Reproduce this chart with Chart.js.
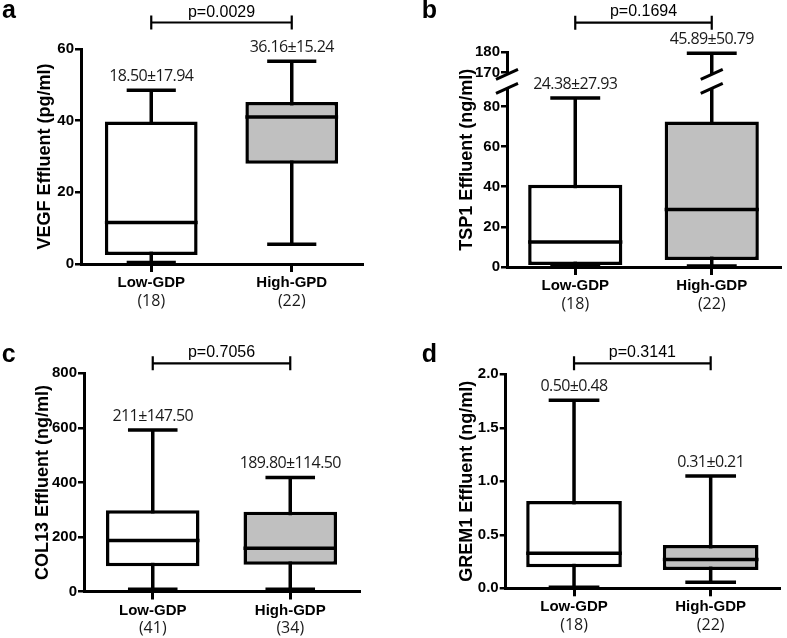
<!DOCTYPE html>
<html>
<head>
<meta charset="utf-8">
<script src="https://cdn.jsdelivr.net/npm/chart.js@4.4.1/dist/chart.umd.min.js"></script>
<style>
html,body{margin:0;padding:0;background:#fff;}
#wrap{position:relative;width:787px;height:638px;overflow:hidden;background:#fff;}
#wrap canvas{position:absolute;}
</style>
</head>
<body>
<div id="wrap">
<canvas id="cv-a"></canvas>
<canvas id="cv-b"></canvas>
<canvas id="cv-c"></canvas>
<canvas id="cv-d"></canvas>
</div>
<script>
// ---------------- DATA ----------------
const categories = ['Low-GDP', 'High-GDP'];
const categoriesA = ['Low-GDP', 'High-GPD'];

// a: VEGF (pg/ml)
const vegfMin = [0.4, 5.5];
const vegfQ1 = [2.5, 28];
const vegfMedian = [11.6, 41];
const vegfQ3 = [39.8, 45.2];
const vegfMax = [48.5, 56.6];
const vegfStats = ['18.50±17.94', '36.16±15.24'];
const vegfN = ['(18)', '(22)'];
const vegfP = 'p=0.0029';
const vegfTicks = [0, 20, 40, 60];

// b: TSP1 (ng/ml), broken axis
const tspMin = [0.5, 0.5];
const tspQ1 = [1, 3.5];
const tspMedian = [12.5, 28.7];
const tspQ3 = [41, 72.5];
const tspMax = [84.2, 179.5];
const tspStats = ['24.38±27.93', '45.89±50.79'];
const tspN = ['(18)', '(22)'];
const tspP = 'p=0.1694';
const tspTicks = [0, 20, 40, 60, 80, 170, 180];

// c: COL13 (ng/ml)
const colMin = [8, 8];
const colQ1 = [93, 98];
const colMedian = [187, 159];
const colQ3 = [298, 292];
const colMax = [592, 418];
const colStats = ['211±147.50', '189.80±114.50'];
const colN = ['(41)', '(34)'];
const colP = 'p=0.7056';
const colTicks = [0, 200, 400, 600, 800];

// d: GREM1 (ng/ml)
const gremMin = [0.01, 0.056];
const gremQ1 = [0.196, 0.17];
const gremMedian = [0.327, 0.27];
const gremQ3 = [0.815, 0.405];
const gremMax = [1.757, 1.05];
const gremStats = ['0.50±0.48', '0.31±0.21'];
const gremN = ['(18)', '(22)'];
const gremP = 'p=0.3141';
const gremTicks = [0, 0.5, 1.0, 1.5, 2.0];

const boxFills = ['#ffffff', '#c0c0c0'];

// ---------------- LAYOUT (page coordinates) ----------------
const LAYOUT = {
  a: {canvas:[0,0,393,319], area:[81,362,49,264], titleX:45, bracketY:22.5, pBase:17, letter:[2,18.3], barPct:0.66},
  b: {canvas:[393,0,394,319], area:[507,780,52.3,267], titleX:466.7, bracketY:22.7, pBase:16, letter:[421.7,18.3], barPct:0.69},
  c: {canvas:[0,319,393,319], area:[84,359,373.3,591.5], titleX:43.3, bracketY:363.3, pBase:357, letter:[1.7,361.7], barPct:0.68},
  d: {canvas:[393,319,394,319], area:[505.7,779,374.3,588.3], titleX:466.7, bracketY:363.3, pBase:357, letter:[421.7,361.7], barPct:0.70}
};

function hasFont(name){
  const c = document.createElement('canvas').getContext('2d');
  const s = 'abcdefghijklmnop0123456789';
  c.font = '40px monospace'; const w1 = c.measureText(s).width;
  c.font = '40px "' + name + '", monospace'; const w2 = c.measureText(s).width;
  return Math.abs(w1 - w2) > 0.5;
}
const NARROW_OK = hasFont('Liberation Sans Narrow');
const TICK_FONT = NARROW_OK
  ? {family: '"Liberation Sans Narrow", "Liberation Sans", Arial, sans-serif', size: 17, weight: 'bold'}
  : {family: '"Liberation Sans", Arial, sans-serif', size: 15, weight: 'bold'};
const TITLE_SIZE = 18;
const LINE_W = 3.5;

Chart.defaults.color = '#000';
Chart.defaults.animation = false;

function buildPanel(key, d) {
  const L = LAYOUT[key];
  const cv = document.getElementById('cv-' + key);
  const [ox, oy, W, H] = L.canvas;
  cv.width = W; cv.height = H;
  cv.style.left = ox + 'px'; cv.style.top = oy + 'px';
  cv.style.width = W + 'px'; cv.style.height = H + 'px';
  const aL = L.area[0] - ox, aR = L.area[1] - ox, aT = L.area[2] - oy, aB = L.area[3] - oy;
  const titleLeft = (L.titleX - ox) - (4 + TITLE_SIZE * 1.2 / 2);
  const yW = aL - titleLeft;
  const xH = 40;
  const disp = d.toDisplay || (v => v);

  const plugin = {
    id: 'box_' + key,
    beforeDatasetsDraw(chart) {
      const ctx = chart.ctx, ys = chart.scales.y;
      const meta = chart.getDatasetMeta(0);
      ctx.save();
      ctx.strokeStyle = '#000'; ctx.lineWidth = LINE_W;
      d.cats.forEach((c, i) => {
        const bar = meta.data[i];
        const x = bar.x, cw = bar.width * 0.53;
        const y1 = ys.getPixelForValue(disp(d.min[i]));
        const y2 = ys.getPixelForValue(disp(d.max[i]));
        ctx.beginPath();
        ctx.moveTo(x, y1); ctx.lineTo(x, y2);
        ctx.moveTo(x - cw / 2, y1); ctx.lineTo(x + cw / 2, y1);
        ctx.moveTo(x - cw / 2, y2); ctx.lineTo(x + cw / 2, y2);
        ctx.stroke();
      });
      ctx.restore();
    },
    afterDatasetsDraw(chart) {
      const ctx = chart.ctx, ys = chart.scales.y, xs = chart.scales.x;
      const meta = chart.getDatasetMeta(0);
      ctx.save();
      ctx.strokeStyle = '#000'; ctx.fillStyle = '#000';
      // medians
      ctx.lineWidth = LINE_W;
      d.cats.forEach((c, i) => {
        const bar = meta.data[i];
        const y = ys.getPixelForValue(disp(d.med[i]));
        ctx.beginPath();
        ctx.moveTo(bar.x - bar.width / 2, y); ctx.lineTo(bar.x + bar.width / 2, y);
        ctx.stroke();
      });
      // breaks
      if (d.breakAt) {
        const yb1 = ys.getPixelForValue(d.breakAt[0]);
        const yb2 = ys.getPixelForValue(d.breakAt[1]);
        const xsList = [chart.chartArea.left];
        d.cats.forEach((c, i) => { if (disp(d.max[i]) > d.breakAt[1]) xsList.push(meta.data[i].x); });
        xsList.forEach(x => {
          ctx.fillStyle = '#fff';
          ctx.fillRect(x - 4, yb2, 8, yb1 - yb2);
          ctx.strokeStyle = '#000'; ctx.lineWidth = 3;
          [yb1, yb2].forEach(y => {
            ctx.beginPath();
            ctx.moveTo(x - 11, y + 5); ctx.lineTo(x + 11, y - 5);
            ctx.stroke();
          });
        });
        ctx.fillStyle = '#000';
      }
      // stats labels
      ctx.font = '16px "Open Sans", "Noto Sans", sans-serif';
      ctx.textAlign = 'center'; ctx.textBaseline = 'alphabetic';
      if ('letterSpacing' in ctx) ctx.letterSpacing = '-0.6px';
      ctx.fillStyle = '#1a1a1a';
      d.cats.forEach((c, i) => {
        const x = meta.data[i].x;
        const y = ys.getPixelForValue(disp(d.max[i])) - 9;
        ctx.fillText(d.stats[i], x, y);
      });
      if ('letterSpacing' in ctx) ctx.letterSpacing = '0px';
      // n labels
      ctx.font = '16px "Open Sans", "Noto Sans", sans-serif';
      ctx.textBaseline = 'middle';
      d.cats.forEach((c, i) => {
        ctx.fillText(d.n[i], xs.getPixelForValue(i), xs.top + 37);
      });
      ctx.fillStyle = '#000';
      // bracket + p value
      const x1 = xs.getPixelForValue(0), x2 = xs.getPixelForValue(1);
      const by = L.bracketY - oy;
      ctx.lineWidth = 2.2;
      ctx.beginPath();
      ctx.moveTo(x1, by); ctx.lineTo(x2, by);
      ctx.moveTo(x1, by - 7); ctx.lineTo(x1, by + 7);
      ctx.moveTo(x2, by - 7); ctx.lineTo(x2, by + 7);
      ctx.stroke();
      ctx.font = '16px "Liberation Sans", Arial, sans-serif';
      ctx.textBaseline = 'alphabetic';
      ctx.fillText(d.p, (x1 + x2) / 2, L.pBase - oy);
      // panel letter
      ctx.font = 'bold 25px "Liberation Sans", Arial, sans-serif';
      ctx.textAlign = 'left';
      ctx.fillText(key, L.letter[0] - ox, L.letter[1] - oy);
      ctx.restore();
    }
  };

  const yTicksDisp = d.ticks.map(disp);

  return new Chart(cv, {
    type: 'bar',
    data: {
      labels: d.cats,
      datasets: [{
        data: d.cats.map((c, i) => [disp(d.q1[i]), disp(d.q3[i])]),
        backgroundColor: boxFills,
        borderColor: '#000',
        borderWidth: LINE_W,
        borderSkipped: false,
        barPercentage: 1,
        categoryPercentage: L.barPct
      }]
    },
    options: {
      responsive: false,
      animation: false,
      layout: {padding: {left: titleLeft, right: W - aR, top: aT, bottom: H - aB - xH}},
      plugins: {legend: {display: false}, tooltip: {enabled: false}},
      scales: {
        x: {
          type: 'category',
          offset: true,
          grid: {display: true, drawOnChartArea: false, drawTicks: true, tickLength: 8, color: '#000', lineWidth: 3, offset: false},
          border: {display: true, color: '#000', width: 3},
          ticks: {font: {family: '"Liberation Sans", Arial, sans-serif', size: 15, weight: 'bold'}, color: '#000', padding: 2, maxRotation: 0, autoSkip: false},
          afterFit(s) { s.height = xH; }
        },
        y: {
          type: 'linear',
          min: 0,
          max: yTicksDisp[yTicksDisp.length - 1],
          grid: {display: true, drawOnChartArea: false, drawTicks: true, tickLength: 6, color: '#000', lineWidth: 2.5},
          border: {display: true, color: '#000', width: 3},
          ticks: {
            font: TICK_FONT, color: '#000', padding: 1, autoSkip: false,
            callback(v) {
              const idx = yTicksDisp.findIndex(t => Math.abs(t - v) < 1e-9);
              const real = idx >= 0 ? d.ticks[idx] : v;
              return d.decimals ? real.toFixed(d.decimals) : String(real);
            }
          },
          afterBuildTicks(s) { s.ticks = yTicksDisp.map(v => ({value: v})); },
          title: {display: true, text: d.title, font: {family: '"Liberation Sans", Arial, sans-serif', size: TITLE_SIZE, weight: 'bold'}, color: '#000', padding: {top: 4, bottom: 4}},
          afterFit(s) { s.width = yW; }
        }
      }
    },
    plugins: [plugin]
  });
}

buildPanel('a', {cats: categoriesA, min: vegfMin, q1: vegfQ1, med: vegfMedian, q3: vegfQ3, max: vegfMax,
  stats: vegfStats, n: vegfN, p: vegfP, ticks: vegfTicks, title: 'VEGF Effluent (pg/ml)'});

buildPanel('b', {cats: categories, min: tspMin, q1: tspQ1, med: tspMedian, q3: tspQ3, max: tspMax,
  stats: tspStats, n: tspN, p: tspP, ticks: tspTicks, title: 'TSP1 Effluent (ng/ml)',
  toDisplay: v => (v >= 130 ? v - 73 : v), breakAt: [89, 96]});

buildPanel('c', {cats: categories, min: colMin, q1: colQ1, med: colMedian, q3: colQ3, max: colMax,
  stats: colStats, n: colN, p: colP, ticks: colTicks, title: 'COL13 Effluent (ng/ml)'});

buildPanel('d', {cats: categories, min: gremMin, q1: gremQ1, med: gremMedian, q3: gremQ3, max: gremMax,
  stats: gremStats, n: gremN, p: gremP, ticks: gremTicks, decimals: 1, title: 'GREM1 Effluent (ng/ml)'});
</script>
</body>
</html>
